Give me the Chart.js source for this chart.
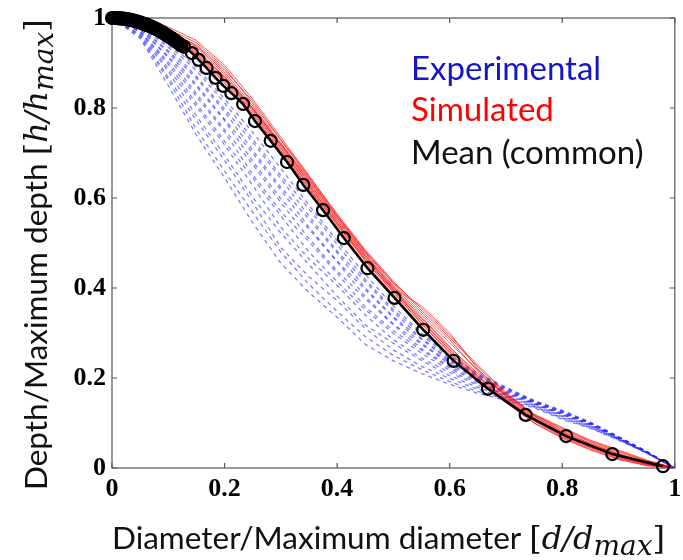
<!DOCTYPE html>
<html>
<head>
<meta charset="utf-8">
<script src="https://cdn.jsdelivr.net/npm/chart.js@4.4.1/dist/chart.umd.min.js"></script>
<style>
  html, body { margin: 0; padding: 0; background: #fff; }
  #wrap { position: relative; width: 683px; height: 560px; }
</style>
</head>
<body>
<div id="wrap"><canvas id="grafico"></canvas></div>
<script>
// shared x positions (d/dmax) for the experimental and simulated profiles
const xGrid = [0, 0.05, 0.1, 0.15, 0.2, 0.25, 0.3, 0.35, 0.4, 0.45, 0.5, 0.55, 0.6, 0.65, 0.7, 0.75, 0.8, 0.85, 0.9, 0.95, 1];

// experimental profiles (blue, dashed)
const exp01 = [1, .955, .85, .74, .645, .545, .455, .39, .335, .275, .238, .21, .186, .166, .15, .134, .108, .088, .062, .033, 0];
const exp02 = [1, .958, .862, .752, .66, .568, .48, .408, .348, .292, .25, .219, .192, .17, .153, .136, .11, .089, .063, .033, 0];
const exp03 = [1, .962, .868, .772, .684, .59, .49, .425, .372, .31, .262, .226, .199, .175, .156, .137, .112, .091, .064, .034, 0];
const exp04 = [1, .963, .882, .782, .695, .602, .522, .452, .382, .318, .277, .239, .205, .179, .159, .139, .114, .092, .064, .034, 0];
const exp05 = [1, .968, .888, .803, .718, .628, .535, .465, .406, .34, .285, .244, .212, .184, .162, .14, .116, .094, .065, .034, 0];
const exp06 = [1, .969, .897, .81, .726, .645, .56, .48, .414, .352, .299, .255, .217, .187, .164, .142, .118, .095, .066, .035, 0];
const exp07 = [1, .971, .902, .826, .747, .652, .57, .503, .433, .358, .305, .262, .222, .191, .167, .143, .119, .096, .066, .035, 0];
const exp08 = [1, .975, .912, .832, .752, .675, .59, .51, .438, .376, .318, .265, .226, .194, .169, .144, .12, .097, .067, .035, 0];
const exp09 = [1, .976, .915, .848, .772, .682, .598, .531, .458, .381, .32, .275, .231, .197, .171, .145, .122, .098, .067, .035, 0];
const exp10 = [1, .978, .924, .852, .775, .7, .618, .535, .46, .396, .334, .277, .235, .199, .173, .146, .123, .099, .068, .036, 0];
const exp11 = [1, .98, .927, .866, .792, .706, .624, .553, .478, .4, .336, .286, .238, .202, .175, .147, .124, .099, .068, .036, 0];
const exp12 = [1, .982, .935, .87, .798, .724, .643, .56, .482, .414, .347, .288, .242, .205, .176, .148, .125, .1, .069, .036, 0];
const exp13 = [1, .983, .94, .883, .812, .731, .65, .576, .497, .419, .352, .296, .246, .207, .178, .149, .127, .101, .069, .037, 0];
const exp14 = [1, .985, .946, .89, .82, .746, .666, .584, .505, .43, .36, .30, .25, .21, .18, .15, .128, .102, .07, .037, 0];

// simulated profiles (red)
const sim01 = [1, .99, .96, .915, .85, .78, .70, .62, .535, .455, .385, .315, .25, .19, .145, .10, .068, .042, .02, .006, 0];
const sim02 = [1, .992, .965, .925, .865, .795, .712, .63, .546, .466, .395, .328, .262, .2, .15, .106, .072, .046, .024, .008, 0];
const sim03 = [1, .994, .97, .935, .875, .80, .72, .64, .556, .474, .402, .335, .27, .205, .155, .11, .076, .05, .027, .01, 0];
const sim04 = [1, .995, .975, .945, .89, .81, .728, .645, .56, .48, .41, .345, .285, .215, .158, .112, .078, .052, .03, .012, 0];
const sim05 = [1, .993, .968, .93, .87, .80, .718, .636, .552, .472, .40, .36, .30, .22, .16, .115, .08, .055, .032, .013, 0];
const sim06 = [1, .991, .962, .92, .858, .788, .706, .625, .542, .462, .392, .322, .258, .197, .15, .104, .07, .045, .022, .008, 0];
const sim07 = [1, .996, .98, .95, .895, .82, .735, .65, .565, .485, .415, .35, .29, .225, .165, .118, .085, .058, .035, .015, 0];
const sim08 = [1, .992, .966, .928, .868, .798, .716, .634, .55, .47, .398, .332, .268, .21, .162, .118, .088, .06, .038, .016, 0];
const sim09 = [1, .99, .962, .918, .855, .785, .703, .622, .54, .46, .39, .32, .255, .195, .146, .1, .066, .04, .019, .005, 0];
const sim10 = [1, .994, .972, .938, .88, .805, .722, .642, .558, .478, .405, .34, .278, .218, .163, .12, .09, .062, .04, .018, 0];
const sim11 = [1, .993, .97, .94, .885, .815, .73, .648, .562, .482, .412, .355, .295, .228, .168, .116, .082, .054, .03, .012, 0];
const sim12 = [1, .991, .964, .922, .862, .792, .71, .628, .545, .465, .396, .326, .264, .203, .153, .108, .074, .048, .025, .009, 0];

// mean (common) profile with markers, dense near the centre of the crater
const meanX = [0, .003, .006, .009, .012, .015, .018, .021, .024, .027, .03, .033, .036, .039, .042, .045, .048, .051, .054, .057, .06,
  .063, .066, .069, .072, .075, .078, .081, .084, .087, .09, .093, .096, .099, .102, .105, .108, .111, .114, .117, .12, .123,
  .128, .142, .154, .168, .184, .198, .212, .233, .254, .282, .311, .340, .375, .412, .454, .502, .553, .607, .668, .735, .807, .889, .979];
const meanY = [1, 1, 1, 1, .999, .999, .999, .998, .998, .997, .997, .996, .995, .994, .993, .992, .991, .99, .988, .987, .986,
  .984, .983, .981, .979, .978, .976, .974, .972, .97, .968, .965, .963, .961, .958, .956, .953, .951, .948, .945, .942, .939,
  .936, .922, .907, .889, .867, .849, .833, .809, .771, .727, .680, .629, .573, .511, .444, .378, .307, .238, .176, .118, .071, .031, .004];

const tickValues = [0, 0.2, 0.4, 0.6, 0.8, 1];

const experimental = [exp01, exp02, exp03, exp04, exp05, exp06, exp07, exp08, exp09, exp10, exp11, exp12, exp13, exp14];
const simulated = [sim01, sim02, sim03, sim04, sim05, sim06, sim07, sim08, sim09, sim10, sim11, sim12];

function toPoints(ys) {
    return ys.map((y, i) => ({ x: xGrid[i], y: y }));
}

const datasets = [];
datasets.push({
    label: 'Mean (common)',
    data: meanX.map((x, i) => ({ x: x, y: meanY[i] })),
    borderColor: '#000',
    borderWidth: 2.5,
    pointRadius: 6,
    pointBorderWidth: 2.2,
    pointBorderColor: '#000',
    pointBackgroundColor: 'rgba(0,0,0,0)',
    clip: false,
    order: 0
});
simulated.forEach(s => datasets.push({
    label: 'Simulated',
    data: toPoints(s),
    borderColor: 'rgba(255,0,0,0.65)',
    borderWidth: 1,
    pointRadius: 0,
    order: 1
}));
experimental.forEach(s => datasets.push({
    label: 'Experimental',
    data: toPoints(s),
    borderColor: 'rgba(40,40,255,0.6)',
    borderWidth: 1.3,
    borderDash: [4, 4],
    pointRadius: 0,
    order: 2
}));

// box round the plot with small inward ticks, like the original figure
const framePlugin = {
    id: 'frame',
    beforeDatasetsDraw(chart) {
        const { ctx, chartArea: a, scales } = chart;
        ctx.save();
        ctx.strokeStyle = '#555';
        ctx.lineWidth = 1.2;
        ctx.strokeRect(a.left, a.top, a.right - a.left, a.bottom - a.top);
        ctx.beginPath();
        tickValues.forEach(v => {
            const px = scales.x.getPixelForValue(v);
            ctx.moveTo(px, a.bottom); ctx.lineTo(px, a.bottom - 5);
            ctx.moveTo(px, a.top); ctx.lineTo(px, a.top + 5);
            const py = scales.y.getPixelForValue(v);
            ctx.moveTo(a.left, py); ctx.lineTo(a.left + 5, py);
            ctx.moveTo(a.right, py); ctx.lineTo(a.right - 5, py);
        });
        ctx.stroke();
        ctx.restore();
    }
};

function drawParts(ctx, parts, x, y) {
    parts.forEach(p => {
        ctx.font = p.font;
        ctx.fillText(p.t, x, y + (p.dy || 0));
        x += ctx.measureText(p.t).width;
    });
}

const textPlugin = {
    id: 'texts',
    afterDraw(chart) {
        const ctx = chart.ctx;
        ctx.save();
        ctx.textBaseline = 'alphabetic';
        ctx.textAlign = 'left';

        // legend written as coloured words
        ctx.font = '33px Lato';
        ctx.fillStyle = '#1414c8';
        ctx.fillText('Experimental', 411, 80);
        ctx.fillStyle = '#f00';
        ctx.fillText('Simulated', 411, 121);
        ctx.fillStyle = '#111';
        ctx.fillText('Mean (common)', 411, 164);

        // x axis title
        ctx.fillStyle = '#111';
        drawParts(ctx, [
            { t: 'Diameter/Maximum diameter ', font: '31.5px Lato' },
            { t: '[', font: '32px "DejaVu Serif"' },
            { t: 'd/d', font: 'italic 32px "DejaVu Serif"' },
            { t: 'max', font: 'italic 28px "DejaVu Serif"', dy: 6 },
            { t: ']', font: '32px "DejaVu Serif"' }
        ], 112, 549);

        // y axis title
        ctx.translate(47, 490);
        ctx.rotate(-Math.PI / 2);
        drawParts(ctx, [
            { t: 'Depth/Maximum depth ', font: '31.5px Lato' },
            { t: '[', font: '32px "DejaVu Serif"' },
            { t: 'h/h', font: 'italic 32px "DejaVu Serif"' },
            { t: 'max', font: 'italic 28px "DejaVu Serif"', dy: 6 },
            { t: ']', font: '32px "DejaVu Serif"' }
        ], 0, 0);
        ctx.restore();
    }
};

const tickFont = { family: '"Liberation Serif"', size: 26, weight: 'bold' };
const tickText = v => String(Number(v.toFixed(2)));

new Chart(document.getElementById('grafico').getContext('2d'), {
    type: 'line',
    data: { datasets: datasets },
    options: {
        responsive: true,
        maintainAspectRatio: false,
        animation: false,
        layout: { padding: { top: 18, right: 1, left: 0, bottom: 0 } },
        plugins: {
            legend: { display: false },
            tooltip: { enabled: false }
        },
        elements: { line: { tension: 0 } },
        scales: {
            x: {
                type: 'linear',
                min: 0,
                max: 1,
                grid: { display: false, drawTicks: false },
                border: { display: false },
                ticks: { stepSize: 0.2, color: '#000', font: tickFont, padding: 6, maxRotation: 0, callback: tickText },
                afterFit(scale) {
                    scale.height = 92;
                    scale.paddingLeft = 0;
                    scale.paddingRight = 0;
                }
            },
            y: {
                type: 'linear',
                min: 0,
                max: 1,
                grid: { display: false, drawTicks: false },
                border: { display: false },
                ticks: { stepSize: 0.2, color: '#000', font: tickFont, padding: 6, callback: tickText },
                afterFit(scale) {
                    scale.width = 112;
                    scale.paddingTop = 0;
                    scale.paddingBottom = 0;
                }
            }
        }
    },
    plugins: [framePlugin, textPlugin]
});
</script>
</body>
</html>
